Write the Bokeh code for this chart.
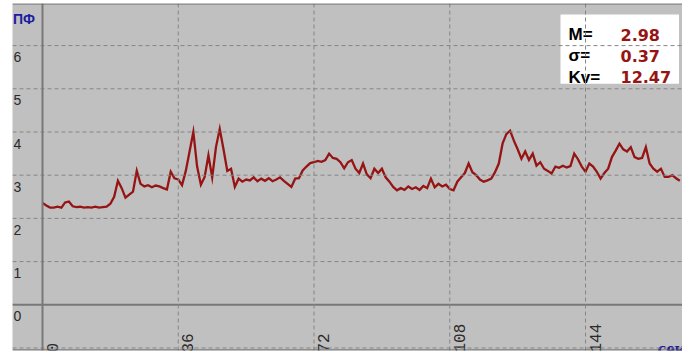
import math

from bokeh.core.properties import value
from bokeh.embed import file_html
from bokeh.models import Range1d, Span
from bokeh.plotting import figure
from bokeh.resources import INLINE

# ---- data -----------------------------------------------------------------
# time in seconds, one reading per second
TIME = list(range(170))
PF = [
    2.36, 2.30, 2.25, 2.25, 2.27, 2.25, 2.37, 2.39, 2.28, 2.26,
    2.27, 2.25, 2.26, 2.25, 2.27, 2.25, 2.26, 2.27, 2.34, 2.50,
    2.87, 2.70, 2.48, 2.55, 2.62, 3.10, 2.80, 2.74, 2.77, 2.72,
    2.76, 2.74, 2.70, 2.67, 3.08, 2.93, 2.90, 2.77, 3.10, 3.55,
    4.00, 3.20, 2.78, 2.96, 3.46, 2.95, 3.65, 4.07, 3.60, 3.10,
    3.15, 2.73, 2.92, 2.85, 2.90, 2.88, 2.95, 2.86, 2.92, 2.87,
    2.93, 2.86, 2.90, 2.95, 2.87, 2.80, 2.73, 2.92, 2.93, 3.11,
    3.20, 3.28, 3.30, 3.33, 3.31, 3.35, 3.50, 3.40, 3.38, 3.30,
    3.16, 3.30, 3.35, 3.15, 3.05, 3.27, 3.02, 2.93, 3.15, 3.05,
    3.15, 2.95, 2.85, 2.73, 2.65, 2.70, 2.66, 2.74, 2.68, 2.72,
    2.66, 2.75, 2.70, 2.92, 2.72, 2.80, 2.74, 2.78, 2.68, 2.65,
    2.85, 2.95, 3.05, 3.27, 3.07, 3.00, 2.90, 2.85, 2.88, 2.92,
    3.07, 3.27, 3.73, 3.95, 4.03, 3.80, 3.60, 3.38, 3.55, 3.35,
    3.50, 3.22, 3.30, 3.15, 3.10, 3.04, 3.20, 3.17, 3.22, 3.18,
    3.21, 3.50, 3.37, 3.20, 3.08, 3.27, 3.20, 3.08, 2.92, 3.05,
    3.15, 3.42, 3.57, 3.73, 3.60, 3.55, 3.65, 3.42, 3.38, 3.40,
    3.65, 3.27, 3.15, 3.08, 3.15, 2.96, 2.96, 3.00, 2.93, 2.87,
]

X_TICKS = [0, 36, 72, 108, 144]
X_TICK_LABELS = ["0", "36", "72", "108", "144"]
Y_GRID = [-1, 0, 1, 2, 3, 4, 5, 6]
Y_TICKS = [0, 1, 2, 3, 4, 5, 6]
Y_TICK_LABELS = ["0", "1", "2", "3", "4", "5", "6"]

STAT_NAMES = ["M=", "\u03c3=", "Kv="]
STAT_VALUES = ["2.98", "0.37", "12.47"]

Y_TITLE = "\u041f\u0424"
X_TITLE = "\u0441\u0435\u043a"

# ---- geometry ---------------------------------------------------------------
W, H = 682, 352
LEFT, TOP, BOTTOM = 12, 3, 2
PX_PER_X = 3.771
PX_PER_Y = 43.2
X_START = -30 / PX_PER_X
X_END = X_START + (W - LEFT) / PX_PER_X
Y_END = 301.3 / PX_PER_Y
Y_START = Y_END - (H - TOP - BOTTOM) / PX_PER_Y


def sx(px):
    """canvas pixel column -> data x"""
    return X_START + (px - LEFT) / PX_PER_X


def sy(py):
    """canvas pixel row -> data y"""
    return Y_END - (py - TOP) / PX_PER_Y


GRID = "#858585"
AXIS = "#787878"
TRACE = "#961414"
NAVY = "#1C1CA0"

p = figure(
    width=W, height=H,
    x_range=Range1d(X_START, X_END), y_range=Range1d(Y_START, Y_END),
    x_axis_location=None, y_axis_location=None,
    toolbar_location=None, output_backend="svg",
    min_border_left=LEFT, min_border_right=0,
    min_border_top=TOP, min_border_bottom=BOTTOM,
    background_fill_color="#C0C0C0", border_fill_color="white",
    outline_line_color=None,
)
p.grid.visible = False

# grid
for v in Y_GRID:
    if v == 0:
        p.add_layout(Span(location=v, dimension="width", line_color=AXIS, line_width=2))
    else:
        p.add_layout(Span(location=v, dimension="width", line_color=GRID,
                          line_width=1, line_dash="4 3"))
for t in X_TICKS:
    if t == 0:
        p.add_layout(Span(location=t, dimension="height", line_color=AXIS, line_width=2))
    else:
        p.add_layout(Span(location=t, dimension="height", line_color=GRID,
                          line_width=1, line_dash="4 3"))

# frame top / bottom edges
p.add_layout(Span(location=sy(3.5), dimension="width", line_color="#6a6a6a", line_width=1))
p.add_layout(Span(location=sy(349.5), dimension="width", line_color="#5a5a5a", line_width=1))

# trace
p.line(TIME, PF, line_color=TRACE, line_width=2.3, line_join="miter")

# y tick labels, inside the frame just below each grid line
p.text(x=[sx(13)] * len(Y_TICKS), y=[v - 0.27 for v in Y_TICKS], text=Y_TICK_LABELS,
       text_font=value("Liberation Sans"), text_font_size="14px",
       text_color="#2a2a2a", text_align="left", text_baseline="middle")

# x tick labels, rotated, hanging off the bottom edge
p.text(x=[t + 4 / PX_PER_X for t in X_TICKS], y=[sy(352)] * len(X_TICKS), text=X_TICK_LABELS,
       angle=math.pi / 2, text_font=value("Liberation Mono"), text_font_size="16px",
       text_color="#2a2a2a", text_align="left", text_baseline="top")

# axis titles
p.text(x=[sx(12.5)], y=[sy(18.5)], text=[Y_TITLE],
       text_font=value("Liberation Sans"), text_font_size="14px", text_font_style="bold",
       text_color=NAVY, text_align="left", text_baseline="alphabetic")
p.text(x=[sx(657)], y=[sy(348)], text=[X_TITLE],
       text_font=value("Liberation Serif"), text_font_size="19px", text_font_style="bold",
       text_color=NAVY, text_align="left", text_baseline="alphabetic")

# statistics box
p.quad(left=[sx(560)], right=[sx(678.5)], top=[sy(14)], bottom=[sy(83.3)],
       fill_color="white", line_color=None)
rows = [sy(34.3), sy(55), sy(76.7)]
p.text(x=[sx(568)] * 3, y=rows, text=STAT_NAMES,
       text_font=value("Liberation Sans"), text_font_size="17px", text_font_style="bold",
       text_color="black", text_align="left", text_baseline="alphabetic")
p.text(x=[sx(620)] * 3, y=rows, text=STAT_VALUES,
       text_font=value("DejaVu Sans"), text_font_size="16px", text_font_style="bold",
       text_color="#961414", text_align="left", text_baseline="alphabetic")

open("out.html", "w").write(file_html(p, INLINE))
